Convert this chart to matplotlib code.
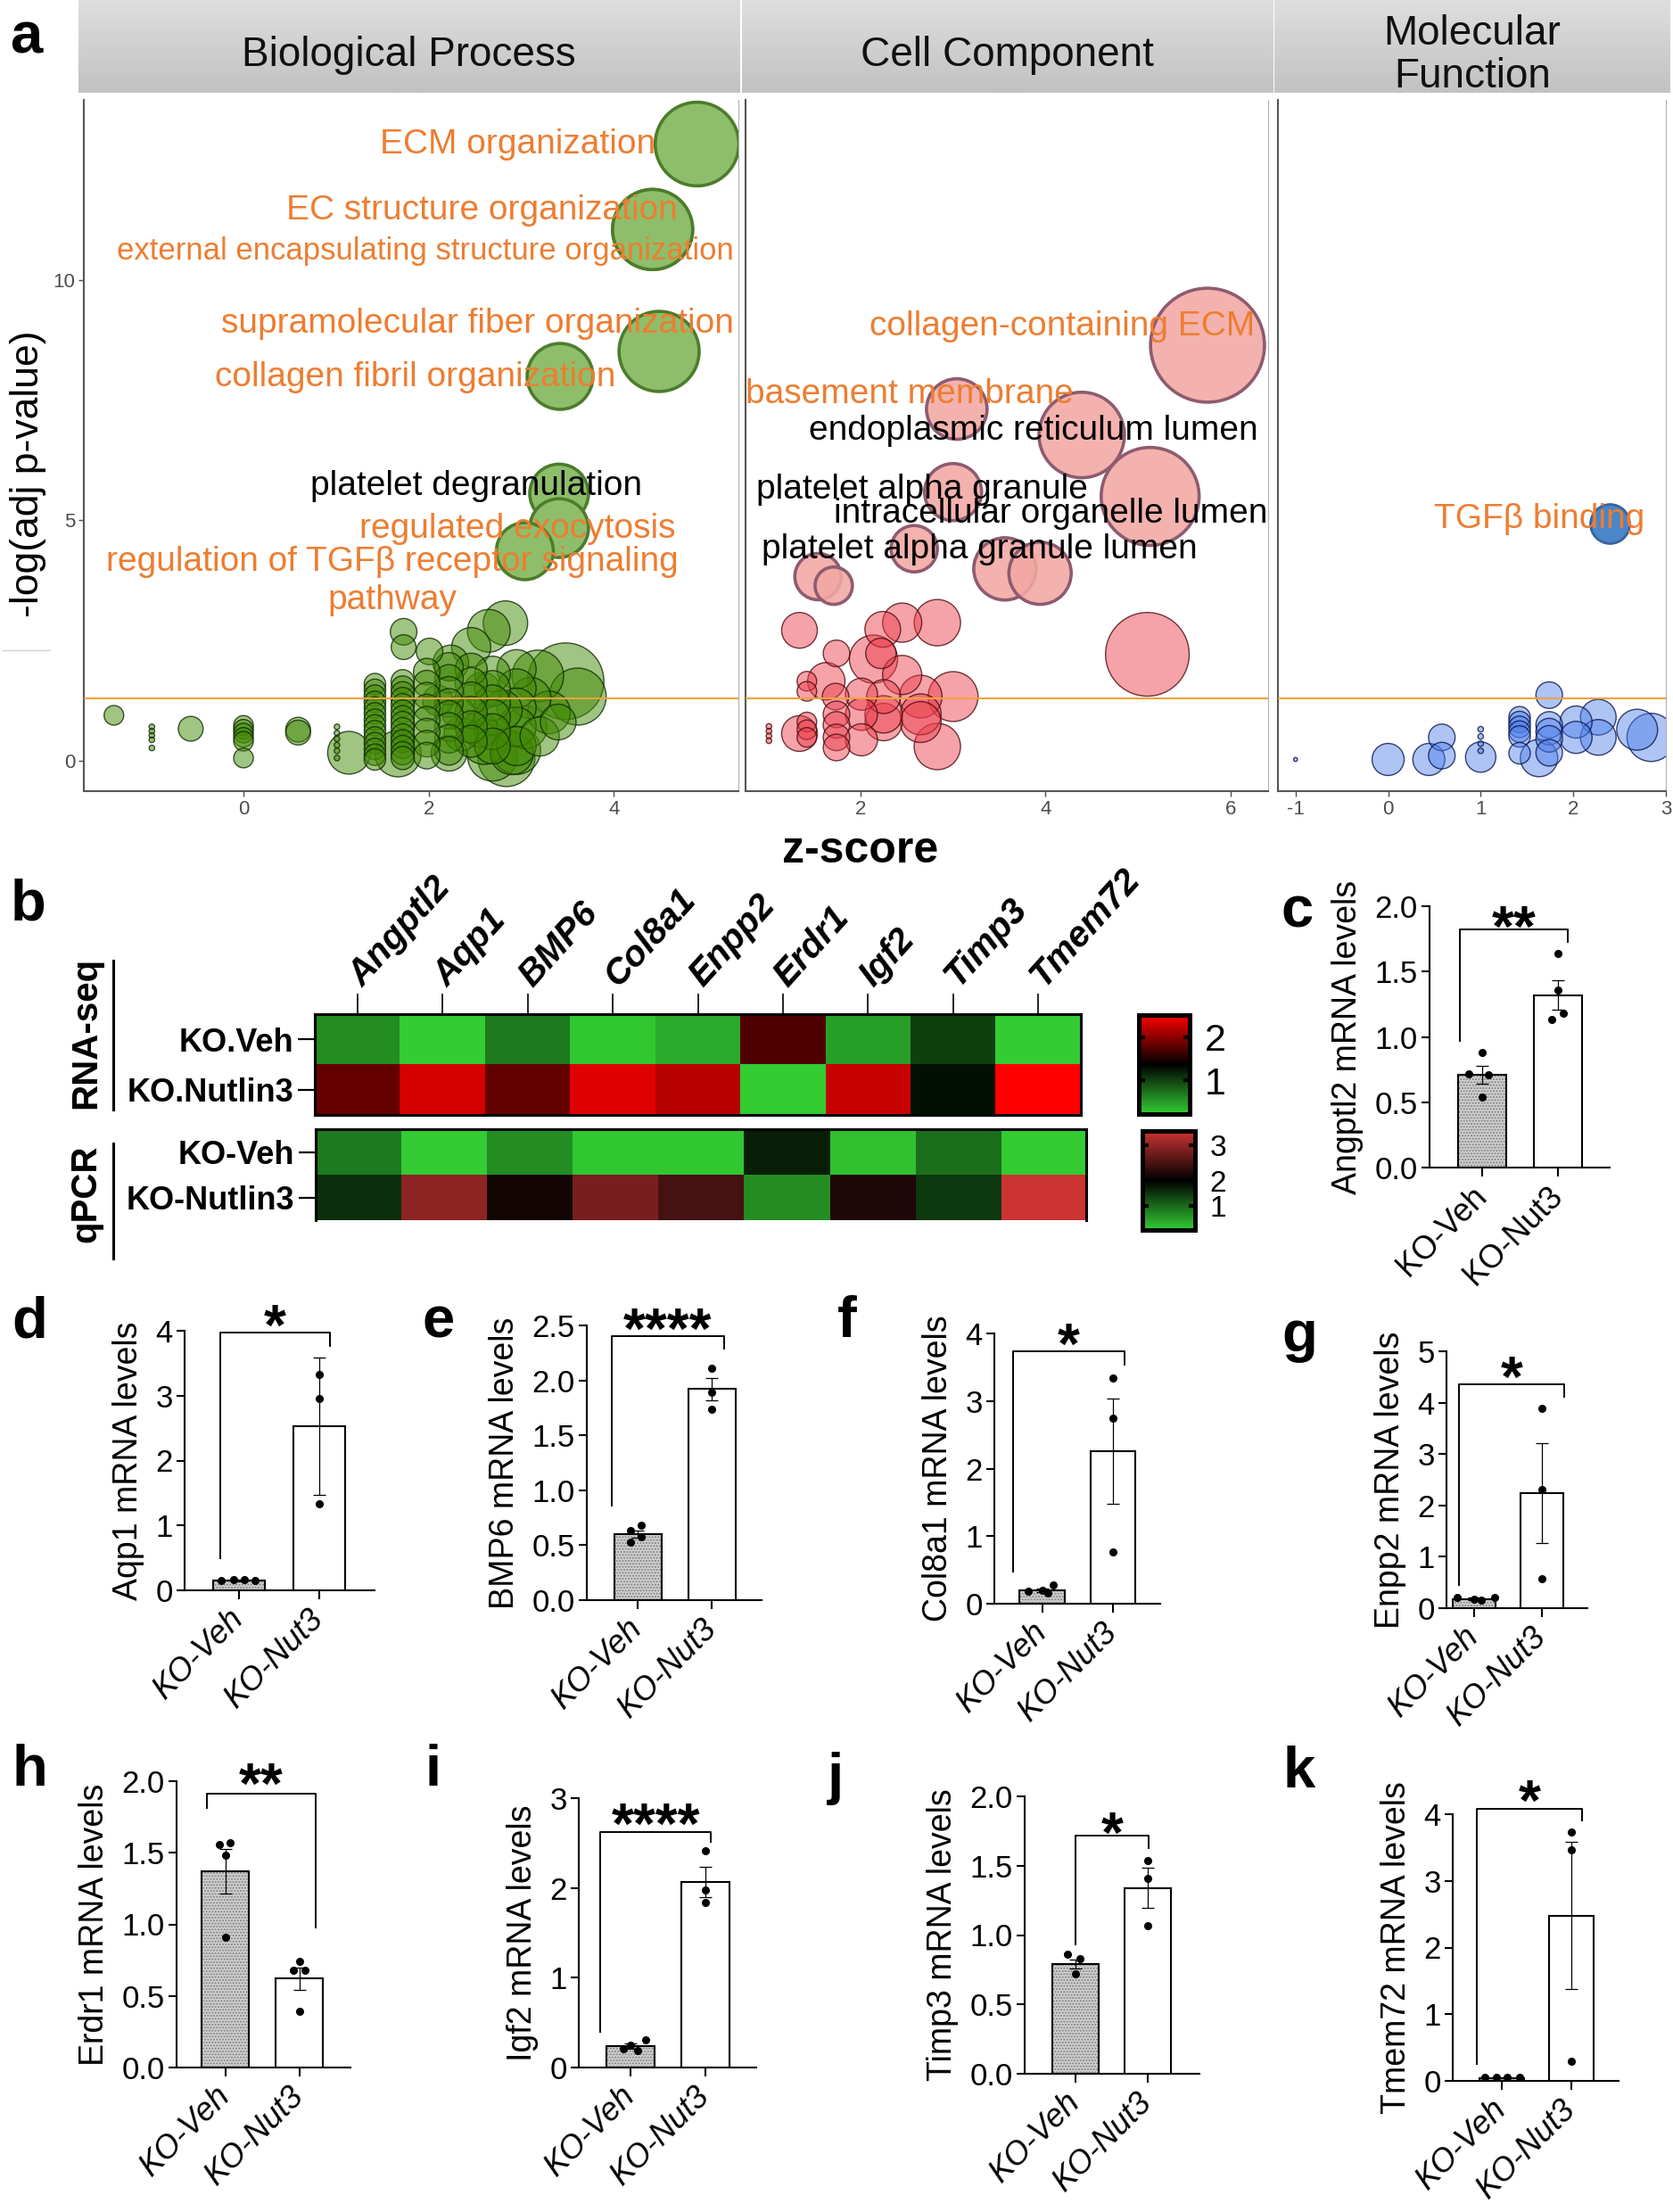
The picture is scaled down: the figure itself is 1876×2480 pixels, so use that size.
import numpy as np
import matplotlib
matplotlib.use("Agg")
import matplotlib.pyplot as plt
from matplotlib.colors import LinearSegmentedColormap, TwoSlopeNorm
from matplotlib.cm import ScalarMappable
from matplotlib.lines import Line2D
import matplotlib.transforms as mtransforms

plt.rcParams['font.family'] = ['Liberation Sans', 'DejaVu Sans']
plt.rcParams['hatch.linewidth'] = 1.0

# ======================= DATA =======================
# ---- panel a : GO enrichment (z-score, -log10 adj p, gene count) ----
bp_terms = ["ECM organization", "EC structure organization",
            "external encapsulating structure organization",
            "supramolecular fiber organization", "collagen fibril organization",
            "platelet degranulation", "regulated exocytosis",
            "regulation of TGF\u03b2 receptor signaling\npathway"]
bp_term_z = [4.90, 4.42, 4.42, 4.49, 3.42, 3.41, 3.41, 3.04]
bp_term_logp = [12.84, 11.06, 11.06, 8.52, 8.00, 5.56, 4.84, 4.36]
bp_term_n = [456, 418, 418, 418, 283, 225, 225, 212]

bp_z = [-1.40,
        -0.99, -0.99, -0.99, -0.99, -0.99,
        -0.57,
        0.00, 0.00, 0.00, 0.00, 0.00, 0.00,
        0.59, 0.59,
        1.01, 1.01, 1.01, 1.01, 1.01, 1.01,
        1.14,
        1.42, 1.42, 1.42, 1.42, 1.42, 1.42, 1.42, 1.42, 1.42, 1.42, 1.42, 1.42, 1.42, 1.42,
        1.72, 1.72, 1.72, 1.72, 1.72, 1.72, 1.72, 1.72, 1.72, 1.72, 1.72, 1.72, 1.72, 1.72,
        1.67,
        1.73, 1.73,
        2.01, 2.24, 2.46, 2.65, 2.83,
        1.98, 1.98, 1.98, 1.98, 1.98, 1.98, 1.98, 1.98,
        2.22, 2.22, 2.22, 2.22, 2.22, 2.22, 2.22, 2.22,
        2.46, 2.46, 2.46, 2.46, 2.46, 2.46,
        2.69, 2.69, 2.69, 2.69, 2.69, 2.69,
        2.95, 2.95, 2.95, 2.95, 2.95,
        2.69, 2.95, 2.22,
        3.18, 3.48, 3.61, 2.84, 3.05, 3.30, 3.20, 2.60, 3.40,
        2.10, 2.35, 2.58, 2.80, 3.10, 2.32, 2.55, 2.90]
bp_logp = [0.94,
           0.70, 0.61, 0.52, 0.43, 0.26,
           0.66,
           0.73, 0.65, 0.57, 0.48, 0.40, 0.05,
           0.64, 0.58,
           0.70, 0.57, 0.45, 0.32, 0.20, 0.05,
           0.16,
           1.59, 1.47, 1.35, 1.22, 1.10, 0.98, 0.85, 0.73, 0.61, 0.48, 0.36, 0.24, 0.12, 0.02,
           1.65, 1.52, 1.40, 1.28, 1.15, 1.02, 0.90, 0.78, 0.65, 0.52, 0.40, 0.28, 0.15, 0.05,
           0.14,
           2.68, 2.36,
           2.27, 2.03, 2.36, 2.70, 2.86,
           1.85, 1.60, 1.35, 1.10, 0.85, 0.60, 0.35, 0.10,
           1.95, 1.70, 1.45, 1.20, 0.95, 0.70, 0.45, 0.20,
           1.90, 1.60, 1.30, 1.00, 0.70, 0.40,
           1.80, 1.50, 1.20, 0.90, 0.60, 0.30,
           1.90, 1.50, 1.10, 0.70, 0.30,
           0.09, 0.21, 0.15,
           1.76, 1.65, 1.33, 0.05, 0.69, 1.00, 0.50, 0.40, 0.80,
           1.25, 0.55, 1.45, 1.05, 1.30, 1.00, 0.65, 0.15]
bp_n = [25,
        2, 2, 2, 2, 2,
        40,
        25, 25, 25, 25, 25, 25,
        40, 40,
        2, 2, 2, 2, 2, 2,
        119,
        30, 30, 30, 30, 30, 30, 30, 30, 30, 30, 30, 30, 30, 30,
        35, 35, 35, 35, 35, 35, 35, 35, 35, 35, 35, 35, 35, 35,
        140,
        46, 40,
        46, 83, 100, 119, 129,
        46, 46, 46, 46, 46, 46, 46, 46,
        53, 53, 53, 53, 53, 53, 53, 53,
        67, 67, 67, 67, 67, 67,
        83, 83, 83, 83, 83, 83,
        100, 100, 100, 100, 100,
        162, 151, 83,
        174, 382, 212, 212, 119, 119, 100, 140, 83,
        60, 75, 90, 100, 110, 70, 85, 120]

cc_terms = ["collagen-containing ECM", "basement membrane",
            "endoplasmic reticulum lumen", "platelet alpha granule",
            "intracellular organelle lumen", "platelet alpha granule lumen"]
cc_term_z = [5.75, 3.04, 4.39, 3.00, 5.13, 2.58]
cc_term_logp = [8.65, 7.32, 6.78, 5.59, 5.50, 4.41]
cc_term_n = [846, 239, 476, 212, 625, 140]

cc_z = [3.56, 3.94, 1.54, 1.71,
        5.10, 1.34, 2.24, 2.45, 2.83, 1.74, 2.14, 2.22, 2.45, 1.63, 1.42, 1.42, 1.73, 2.01, 2.25, 2.65, 3.00,
        1.42, 1.42, 1.42, 1.34, 1.74, 1.74, 1.74, 1.74, 2.01, 2.01, 2.25, 2.25, 2.65, 2.65, 2.83,
        1.01, 1.01, 1.01, 1.01]
cc_logp = [3.99, 3.90, 3.83, 3.64,
           2.21, 2.71, 2.73, 2.87, 2.87, 2.23, 2.11, 2.23, 1.78, 1.65, 1.65, 1.44, 1.33, 1.38, 1.33, 1.33, 1.33,
           0.80, 0.64, 0.48, 0.56, 0.96, 0.74, 0.48, 0.27, 0.96, 0.43, 0.80, 0.96, 0.96, 0.80, 0.29,
           0.71, 0.61, 0.51, 0.41]
cc_n = [253, 253, 140, 91,
        456, 83, 83, 100, 140, 46, 151, 60, 100, 91, 25, 25, 46, 67, 75, 119, 162,
        25, 25, 25, 83, 46, 46, 46, 46, 67, 67, 91, 91, 109, 109, 140,
        2, 2, 2, 2]

mf_terms = ["TGF\u03b2 binding"]
mf_term_z = [2.39]
mf_term_logp = [4.93]
mf_term_n = [100]

mf_z = [1.74, 0.00, -1.00, 0.44, 0.58, 0.58, 1.00, 1.00, 1.00, 1.00, 1.00,
        1.42, 1.42, 1.42, 1.42, 1.42, 1.42, 1.63, 1.74, 1.74, 1.74, 1.74,
        2.03, 2.03, 2.27, 2.27, 2.69, 2.84]
mf_logp = [1.36, 0.02, 0.02, 0.02, 0.48, 0.10, 0.07, 0.65, 0.50, 0.35, 0.20,
           0.90, 0.80, 0.70, 0.60, 0.50, 0.15, 0.05, 0.74, 0.60, 0.45, 0.16,
           0.80, 0.48, 0.90, 0.48, 0.64, 0.48]
mf_n = [46, 67, 1, 67, 46, 46, 60, 2, 2, 2, 2,
        30, 30, 30, 30, 30, 30, 91, 46, 46, 46, 46,
        67, 67, 83, 83, 109, 151]

p_cutoff = 0.05

# ---- panel b : heatmaps ----
hm_genes = ['Angptl2', 'Aqp1', 'BMP6', 'Col8a1', 'Enpp2', 'Erdr1', 'Igf2', 'Timp3', 'Tmem72']
rnaseq_rows = ['KO.Veh', 'KO.Nutlin3']
rnaseq_veh = [0.55, 0.15, 0.65, 0.18, 0.36, 1.73, 0.43, 1.01, 0.15]
rnaseq_nut = [1.83, 2.30, 1.82, 2.34, 2.17, 0.15, 2.24, 1.31, 2.48]
rnaseq_range = [0.15, 1.40, 2.48]
rnaseq_cbar_ticks = [1, 2]
qpcr_rows = ['KO-Veh', 'KO-Nutlin3']
qpcr_veh = [0.84, 0.06, 0.68, 0.12, 0.12, 1.71, 0.18, 0.95, 0.06]
qpcr_nut = [1.55, 2.97, 2.14, 2.83, 2.48, 0.68, 2.21, 1.46, 3.40]
qpcr_range = [0.06, 2.00, 3.40]
qpcr_cbar_ticks = [1, 2, 3]

# ---- panels c-k : qPCR bar charts ----
bar_genes = ['Angptl2', 'Aqp1', 'BMP6', 'Col8a1', 'Enpp2', 'Erdr1', 'Igf2', 'Timp3', 'Tmem72']
bar_groups = ['KO-Veh', 'KO-Nut3']
veh_mean = [0.71, 0.15, 0.60, 0.20, 0.18, 1.37, 0.24, 0.79, 0.045]
veh_sem = [0.07, 0.01, 0.03, 0.03, 0.02, 0.155, 0.03, 0.03, 0.005]
nut_mean = [1.32, 2.53, 1.92, 2.26, 2.24, 0.62, 2.07, 1.34, 2.48]
nut_sem = [0.115, 1.055, 0.105, 0.78, 0.965, 0.075, 0.17, 0.145, 1.10]
veh_points = [[0.88, 0.72, 0.71, 0.54], [0.15, 0.16, 0.17, 0.15], [0.68, 0.63, 0.58, 0.53],
              [0.28, 0.20, 0.18, 0.16], [0.20, 0.18, 0.15, 0.20], [1.56, 1.57, 1.48, 0.91],
              [0.31, 0.25, 0.21, 0.19], [0.86, 0.83, 0.72], [0.05, 0.05, 0.05, 0.05]]
nut_points = [[1.64, 1.36, 1.18, 1.13], [3.32, 2.96, 1.33], [2.11, 1.89, 1.74],
              [3.34, 2.74, 0.77], [3.89, 2.31, 0.58], [0.74, 0.68, 0.68, 0.39],
              [2.41, 1.98, 1.84], [1.54, 1.41, 1.07], [3.73, 3.47, 0.29]]
sig_labels = ['**', '*', '****', '*', '*', '**', '****', '*', '*']

# ======================= LAYOUT =======================
W, H, DPI = 1876, 2480, 100
fig = plt.figure(figsize=(W / DPI, H / DPI), dpi=DPI)
fig.patch.set_facecolor('white')


def add_ax(x0, y0, x1, y1):
    return fig.add_axes([x0 / W, 1 - y1 / H, (x1 - x0) / W, (y1 - y0) / H])


def ftext(x, y, s, **kw):
    return fig.text(x / W, 1 - y / H, s, **kw)


def fline(xs, ys, **kw):
    fig.add_artist(Line2D([x / W for x in xs], [1 - y / H for y in ys], **kw))


ORANGE = '#ed7d31'
YLIM_A = (-0.64, 13.76)
HILITE_LP = 3.5
SIZE_K = 10.0
TICKC = '#4d4d4d'

FACETS = [
    dict(box=(94, 112, 828, 887), xlim=(-1.725, 5.347), xticks=[0, 2, 4],
         strip=(88, 0, 829, 104), title='Biological Process',
         data=(bp_term_z + bp_z, bp_term_logp + bp_logp, bp_term_n + bp_n),
         lo=((0.26, 0.54, 0.02, 0.50), (0.06, 0.17, 0.01, 0.80)),
         hi=('#8ebe6b', '#4d7c2b', 2.6),
         labels=bp_terms,
         lpos=[(4.45, 12.84), (4.69, 11.46), (5.30, 10.61), (5.30, 9.09), (4.02, 7.98),
               (4.31, 5.72), (4.67, 4.82), (1.61, 3.735)],
         lcol=[ORANGE, ORANGE, ORANGE, ORANGE, ORANGE, 'black', ORANGE, ORANGE],
         lsize=[28, 28, 25, 28, 28, 28, 28, 28],
         lha=['right'] * 7 + ['center']),
    dict(box=(836, 112, 1422, 887), xlim=(0.757, 6.405), xticks=[2, 4, 6],
         strip=(832, 0, 1427, 104), title='Cell Component',
         data=(cc_term_z + cc_z, cc_term_logp + cc_logp, cc_term_n + cc_n),
         lo=((0.92, 0.24, 0.29, 0.48), (0.30, 0.04, 0.06, 0.80)),
         hi=((0.95, 0.66, 0.64, 0.88), '#8e5b70', 2.6),
         labels=cc_terms,
         lpos=[(6.26, 9.04), (4.30, 7.63), (6.30, 6.86), (4.46, 5.64), (6.40, 5.13), (5.64, 4.39)],
         lcol=[ORANGE, ORANGE, 'black', 'black', 'black', 'black'],
         lsize=[28] * 6, lha=['right'] * 6),
    dict(box=(1433, 112, 1868, 887), xlim=(-1.19, 3.0), xticks=[-1, 0, 1, 2, 3],
         strip=(1429, 0, 1873, 104), title='Molecular\nFunction',
         data=(mf_term_z + mf_z, mf_term_logp + mf_logp, mf_term_n + mf_n),
         lo=((0.30, 0.50, 0.92, 0.46), (0.04, 0.08, 0.30, 0.80)),
         hi=('#4a86c8', '#3565a0', 2.0),
         labels=mf_terms, lpos=[(2.77, 5.02)], lcol=[ORANGE], lsize=[28], lha=['right']),
]

strip_cmap = LinearSegmentedColormap.from_list('strip', ['#dedede', '#c2c2c2'])
thresh = -np.log10(p_cutoff)

for k, f in enumerate(FACETS):
    sx = add_ax(*f['strip'])
    sx.imshow(np.linspace(0, 1, 64).reshape(-1, 1), cmap=strip_cmap, aspect='auto',
              extent=(0, 1, 0, 1))
    sx.set_axis_off()
    sx.text(0.5, 0.40, f['title'], transform=sx.transAxes, ha='center', va='center',
            fontsize=33, color='#111111', linespacing=1.12)

    ax = add_ax(*f['box'])
    ax.set_xlim(*f['xlim'])
    ax.set_ylim(*YLIM_A)
    z, lp, n = (np.asarray(a, float) for a in f['data'])
    order = np.argsort(-n, kind='stable')
    lo_idx = [i for i in order if lp[i] <= HILITE_LP]
    hi_idx = [i for i in order if lp[i] > HILITE_LP]
    ax.scatter(z[lo_idx], lp[lo_idx], s=n[lo_idx] * SIZE_K, facecolors=[f['lo'][0]],
               edgecolors=[f['lo'][1]], linewidths=1.0, zorder=2)
    ax.scatter(z[hi_idx], lp[hi_idx], s=n[hi_idx] * SIZE_K, facecolors=[f['hi'][0]],
               edgecolors=[f['hi'][1]], linewidths=f['hi'][2], zorder=3)
    ax.axhline(thresh, color='#f2a23c', lw=1.5, zorder=4)
    for lab, (lx, ly), c, fs, ha in zip(f['labels'], f['lpos'], f['lcol'], f['lsize'], f['lha']):
        ax.text(lx, ly, lab, color=c, fontsize=fs, ha=ha, va='center', zorder=6,
                clip_on=False, linespacing=1.22, multialignment='center')
    ax.set_xticks(f['xticks'])
    ax.set_xticklabels([str(t) for t in f['xticks']])
    if k == 0:
        ax.set_yticks([0, 5, 10])
        ax.set_yticklabels(['0', '5', '10'])
    else:
        ax.set_yticks([])
    ax.tick_params(axis='both', labelsize=16, colors=TICKC, length=4, width=1, pad=3)
    ax.spines['top'].set_visible(False)
    ax.spines['right'].set_color('#b0b0b0')
    ax.spines['right'].set_linewidth(0.8)
    for s in ('left', 'bottom'):
        ax.spines[s].set_color('#555555')
        ax.spines[s].set_linewidth(1.5)
    ax.set_facecolor('white')

ftext(32, 531, '-log(adj p-value)', rotation=90, ha='center', va='center', fontsize=32)
ftext(965, 954, 'z-score', ha='center', va='center', fontsize=36, fontweight='bold')
fline([3, 56], [729, 729], color='#d0d0d0', lw=1)

# ---- panel b : heatmaps ----
rna_cmap = LinearSegmentedColormap.from_list('gkr', ['#33cc33', '#000000', '#ff0000'])
qpcr_cmap = LinearSegmentedColormap.from_list('gkr2', ['#33cc33', '#000000', '#cc3333'])
rna_norm = TwoSlopeNorm(vmin=rnaseq_range[0], vcenter=rnaseq_range[1], vmax=rnaseq_range[2])
qpcr_norm = TwoSlopeNorm(vmin=qpcr_range[0], vcenter=qpcr_range[1], vmax=qpcr_range[2])


def heatmap(box, rows, veh, nut, cmap, norm, top_ticks, bottom_spine):
    ax = add_ax(*box)
    M = np.array([veh, nut])
    ncol = M.shape[1]
    ax.imshow(M, cmap=cmap, norm=norm, aspect='auto', interpolation='nearest',
              extent=(-0.5, ncol - 0.5, 1.5, -0.5))
    ax.set_xlim(-0.5, ncol - 0.5)
    ax.set_ylim(1.5, -0.5)
    ax.set_yticks([0, 1])
    ax.set_yticklabels(rows, fontsize=26, fontweight='bold')
    ax.tick_params(axis='y', length=14, width=1.6, pad=3)
    if top_ticks:
        ax.xaxis.set_ticks_position('top')
        ax.set_xticks(range(ncol))
        ax.set_xticklabels([])
        ax.tick_params(axis='x', length=16.5, width=1.2, direction='out')
    else:
        ax.set_xticks([])
    for s in ax.spines.values():
        s.set_linewidth(2.2)
    ax.spines['bottom'].set_visible(bottom_spine)
    return ax


hx = heatmap((353, 1137, 1212, 1250), rnaseq_rows, rnaseq_veh, rnaseq_nut, rna_cmap, rna_norm, True, True)
trans = mtransforms.blended_transform_factory(hx.transData, hx.transAxes)
for i, g in enumerate(hm_genes):
    hx.text(i + 0.06, 1 + (1137 - 1108) / 113.0, g, transform=trans, rotation=48,
            rotation_mode='anchor', ha='left', va='baseline', fontsize=29,
            fontweight='bold', fontstyle='italic')
heatmap((354, 1266, 1218, 1368), qpcr_rows, qpcr_veh, qpcr_nut, qpcr_cmap, qpcr_norm, False, False)


def cbar(box, cmap, norm, ticks, fs):
    cax = add_ax(*box)
    cb = fig.colorbar(ScalarMappable(norm=norm, cmap=cmap), cax=cax)
    cb.set_ticks(ticks)
    cb.set_ticklabels([str(t) for t in ticks])
    cb.minorticks_off()
    cb.outline.set_linewidth(3.6)
    cax.tick_params(axis='y', direction='in', length=5, width=3, left=True, right=True,
                    labelleft=False, labelright=True, labelsize=fs, pad=12)
    return cb


cbar((1277, 1138, 1334, 1249), rna_cmap, rna_norm, rnaseq_cbar_ticks, 31)
cbar((1281, 1268, 1340, 1379), qpcr_cmap, qpcr_norm, qpcr_cbar_ticks, 24)

ftext(96, 1158, 'RNA-seq', rotation=90, ha='center', va='center', fontsize=29, fontweight='bold')
fline([127, 127], [1077, 1244], color='black', lw=2.2)
ftext(96, 1338, 'qPCR', rotation=90, ha='center', va='center', fontsize=29, fontweight='bold')
fline([127, 127], [1282, 1411], color='black', lw=2.2)

# ---- panels c-k ----
BAR_BOX = [(1603, 1016, 1805, 1309), (207, 1492, 420, 1783), (658, 1486, 854, 1794),
           (1115, 1495, 1301, 1798), (1622, 1515, 1780, 1803), (198, 1997, 393, 2318),
           (649, 2016, 848, 2318), (1149, 2014, 1345, 2325), (1629, 2034, 1815, 2333)]
BAR_YMAX = [2.0, 4, 2.5, 4, 5, 2.0, 3, 2.0, 4]
BAR_YSTEP = [0.5, 1, 0.5, 1, 1, 0.5, 1, 0.5, 1]
BAR_DEC = [1, 0, 1, 0, 0, 1, 0, 1, 0]
BAR_XLIM = [(-0.69, 1.68), (-0.68, 1.69), (-0.69, 1.67), (-0.68, 1.67), (-0.41, 1.67),
            (-0.66, 1.69), (-0.69, 1.68), (-0.70, 1.72), (-0.71, 1.68)]
BRACKET = [(-0.29, 1.13, 1.82, 0.97, 1.73, 1.94), (-0.24, 1.13, 3.97, 0.50, 3.76, 4.29),
           (-0.35, 1.16, 2.40, 0.86, 2.29, 2.59), (-0.42, 1.16, 3.73, 0.48, 3.54, 4.04),
           (-0.22, 1.33, 4.35, 0.45, 4.12, 4.75), (-0.25, 1.22, 1.91, 1.81, 0.98, 2.07),
           (-0.40, 1.07, 2.62, 0.40, 2.51, 2.86), (0.00, 1.02, 1.72, 0.93, 1.63, 1.83),
           (-0.36, 1.15, 4.08, 0.26, 3.91, 4.40)]
VEH_DX = [[0, -0.17, 0.08, 0.0], [-0.22, -0.07, 0.07, 0.2], [0.05, -0.1, 0.05, -0.1],
          [0.15, 0.0, -0.2, 0.08], [-0.25, 0.0, 0.1, 0.3], [-0.08, 0.06, 0, 0],
          [0.2, 0, -0.1, 0.1], [-0.11, 0.06, 0], [-0.25, -0.08, 0.08, 0.25]]
NUT_DX = [[0, 0, 0.07, -0.08], [0, 0, 0], [0, 0, 0], [0, 0, 0], [0, 0, 0],
          [0, -0.08, 0.07, 0], [0, 0, 0], [0, 0, 0], [0, 0, 0]]
BAR_ITALIC = [False] + [True] * 8
BAR_W = 0.64
STAR_FS = 46

for i, g in enumerate(bar_genes):
    x0, ytop_px, x1, y0_px = BAR_BOX[i]
    ax = add_ax(x0, ytop_px, x1, y0_px)
    ymax = BAR_YMAX[i]
    ax.set_xlim(*BAR_XLIM[i])
    ax.set_ylim(0, ymax)
    ax.bar(0, veh_mean[i], width=BAR_W, color='#d0d0d0', hatch='.....', edgecolor='#808080',
           linewidth=0, zorder=2)
    ax.bar(0, veh_mean[i], width=BAR_W, fill=False, edgecolor='black', linewidth=1.5, zorder=3)
    ax.bar(1, nut_mean[i], width=BAR_W, color='white', edgecolor='black', linewidth=1.5, zorder=3)
    ax.errorbar([0, 1], [veh_mean[i], nut_mean[i]], yerr=[veh_sem[i], nut_sem[i]], fmt='none',
                ecolor='black', elinewidth=0.9, capsize=5, capthick=0.9, zorder=4, clip_on=False)
    ax.plot(np.array(VEH_DX[i]) + 0, veh_points[i], 'o', color='black', ms=5.5, zorder=5, clip_on=False)
    ax.plot(np.array(NUT_DX[i]) + 1, nut_points[i], 'o', color='black', ms=5.5, zorder=5, clip_on=False)
    bl, br, by, legl, legr, sy = BRACKET[i]
    ax.plot([bl, bl, br, br], [legl, by, by, legr], color='black', lw=1.4, clip_on=False, zorder=5)
    ppu = (y0_px - ytop_px) / ymax
    ax.text((bl + br) / 2, sy - 0.57 * STAR_FS * DPI / 72 / ppu, sig_labels[i], ha='center',
            va='baseline', fontsize=STAR_FS, fontweight='bold', clip_on=False)
    ticks = np.arange(0, ymax + 1e-9, BAR_YSTEP[i])
    ax.set_yticks(ticks)
    ax.set_yticklabels([f"{t:.{BAR_DEC[i]}f}" for t in ticks])
    ax.set_xticks([0, 1])
    ax.set_xticklabels(bar_groups, rotation=45, ha='right', va='center', rotation_mode='anchor',
                       fontstyle='italic' if BAR_ITALIC[i] else 'normal')
    ax.tick_params(axis='y', labelsize=25, length=6.5, width=1.5, pad=3)
    ax.tick_params(axis='x', labelsize=26, length=7, width=1.5, pad=12)
    ax.spines['top'].set_visible(False)
    ax.spines['right'].set_visible(False)
    for s in ('left', 'bottom'):
        ax.spines[s].set_linewidth(1.5)
    ax.set_ylabel(f"{g} mRNA levels", fontsize=27, labelpad=9)
    ax.set_facecolor('none')

# ---- panel letters ----
LETTERS = [('a', 29, 43), ('b', 32, 1015), ('c', 1455, 1022), ('d', 33, 1482), ('e', 492, 1482),
           ('f', 950, 1482), ('g', 1457, 1498), ('h', 33, 1985), ('i', 486, 1985),
           ('j', 937, 1994), ('k', 1457, 1987)]
for s, x, y in LETTERS:
    ftext(x, y, s, ha='center', va='center', fontsize=47, fontweight='bold')

fig.savefig('out.png', dpi=DPI, facecolor='white')
